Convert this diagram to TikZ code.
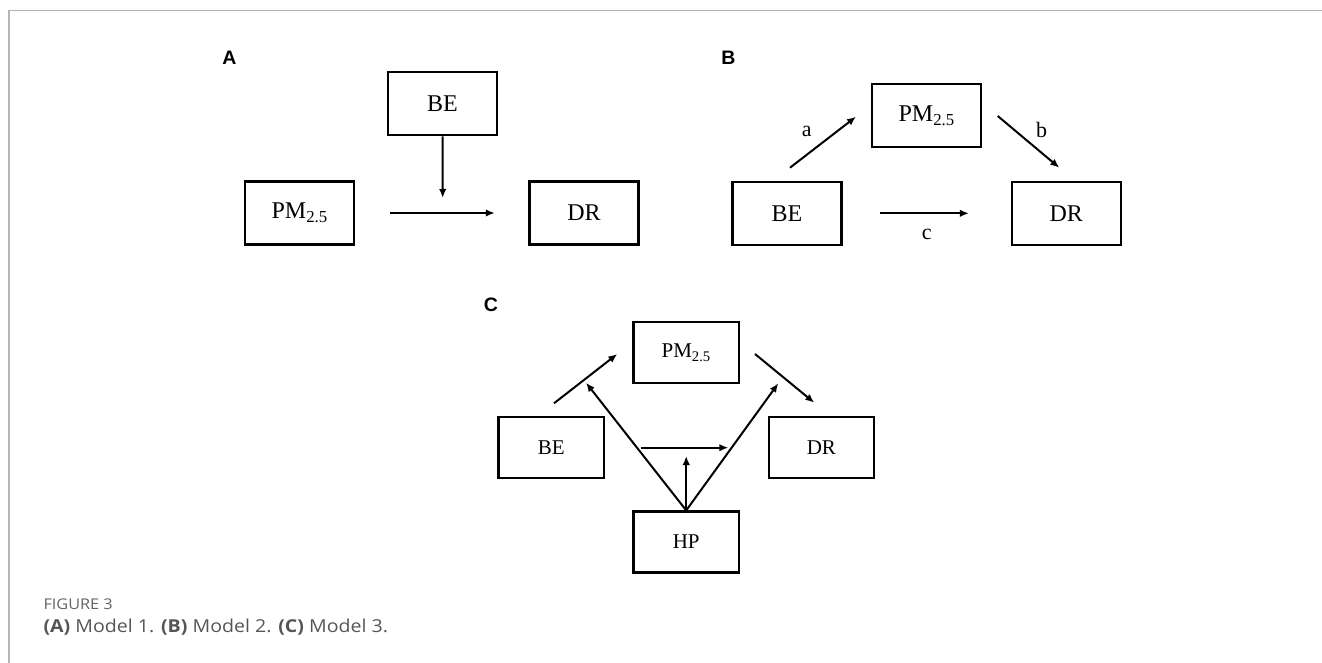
\documentclass[tikz,border=0pt]{standalone}
\usepackage{fontspec}
\setmainfont{Liberation Serif}
\newfontfamily\labfont{Liberation Sans}
\newfontfamily\capfont[FakeStretch=1.1]{Open Sans}
\usetikzlibrary{arrows.meta}
\definecolor{framegray}{HTML}{B4B4B4}
\definecolor{capgray}{HTML}{555555}
\definecolor{figgray}{HTML}{646464}
\tikzset{
  boxAB/.style={draw, line width=2.2pt, minimum width=109pt, minimum height=63pt, inner sep=0pt, font=\fontsize{24}{26}\selectfont},
  boxC/.style={draw, line width=2.2pt, minimum width=105.5pt, minimum height=61pt, inner sep=0pt, font=\fontsize{21}{23}\selectfont},
  arr/.style={line width=2pt, -{Latex[length=9pt,width=7.5pt]}},
  panel/.style={font=\labfont\bfseries\fontsize{19.5}{22}\selectfont, inner sep=0pt},
  lbl/.style={font=\fontsize{22}{24}\selectfont, inner sep=0pt}
}
\begin{document}
\begin{tikzpicture}[x=1pt,y=-1pt]
\useasboundingbox (0,0) rectangle (1322,663);
% frame
\draw[framegray, line width=1.6pt] (1322,10.5) -- (9,10.5) -- (9,663);
% panel A
\node[panel] (labA) at (229.5,58) {A};
\node[boxAB] (beA) at (442.5,103.8) {BE};
\node[boxAB] (pmA) at (299.7,213) {PM\textsubscript{2.5}};
\node[boxAB] (drA) at (584,213) {DR};
\draw[arr] (pmA) -- (drA) [shorten <=35pt, shorten >=33.6pt];
\coordinate (mA) at (442.7,198);
\draw[arr] (beA.south) -- (mA);
% panel B
\node[panel] (labB) at (728.5,58) {B};
\node[boxAB] (pmB) at (926.7,115.7) {PM\textsubscript{2.5}};
\node[boxAB] (beB) at (787,213.3) {BE};
\node[boxAB] (drB) at (1066.2,213.3) {DR};
\coordinate (aS) at (790,167.7);
\coordinate (aE) at (856,116.7);
\coordinate (bS) at (997.7,116);
\coordinate (bE) at (1059.3,167.7);
\draw[arr] (aS) -- (aE);
\draw[arr] (bS) -- (bE);
\draw[arr] (beB) -- (drB) [shorten <=37.6pt, shorten >=41.7pt];
\node[lbl] (la) at (806.7,131.5) {a};
\node[lbl] (lb) at (1041.7,130) {b};
\node[lbl] (lc) at (926.7,234) {c};
% panel C
\node[panel] (labC) at (491,305) {C};
\node[boxC] (pmC) at (686.2,352.7) {PM\textsubscript{2.5}};
\node[boxC] (beC) at (551.2,447.8) {BE};
\node[boxC] (drC) at (821.4,447.8) {DR};
\node[boxC] (hpC) at (686.2,542) {HP};
\coordinate (c1S) at (554,403.3);
\coordinate (c1E) at (617.3,354);
\coordinate (c2S) at (755,354);
\coordinate (c2E) at (814.3,402.7);
\coordinate (hE) at (728.3,447.7);
\coordinate (hS) at (640.7,447.7);
\coordinate (vE) at (686.2,456);
\coordinate (dL) at (586,382.7);
\coordinate (dR) at (778.3,383.3);
\draw[arr] (c1S) -- (c1E);
\draw[arr] (c2S) -- (c2E);
\draw[arr] (hS) -- (hE);
\draw[arr] (hpC.north) -- (vE);
\draw[arr] (hpC.north) -- (dL);
\draw[arr] (hpC.north) -- (dR);
% caption
\node[anchor=base west, inner sep=0pt, font=\capfont\fontsize{14.8}{16}\selectfont, text=figgray] (fig) at (43.3,609) {FIGURE 3};
\node[anchor=base west, inner sep=0pt, font=\capfont\fontsize{17.8}{19}\selectfont, text=capgray] (cap) at (43.3,632.5) {\textbf{(A)} Model 1. \textbf{(B)} Model 2. \textbf{(C)} Model 3.};
\end{tikzpicture}
\end{document}
